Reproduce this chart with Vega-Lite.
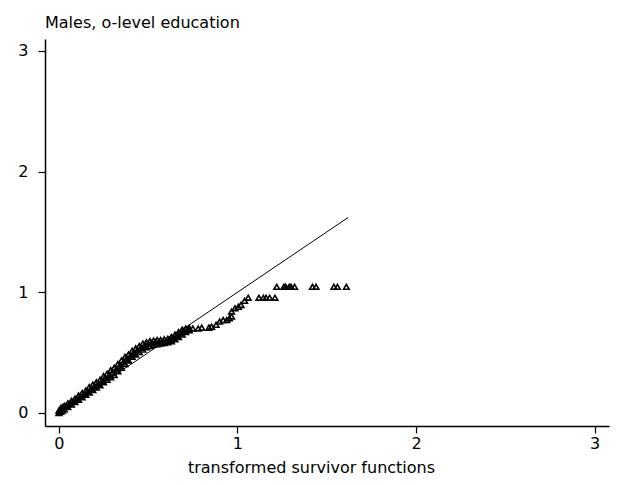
{
  "$schema": "https://vega.github.io/schema/vega-lite/v6.json",
  "width": 564,
  "height": 387,
  "autosize": {"type": "none"},
  "padding": {"left": 45, "top": 39, "right": 10, "bottom": 59},
  "background": "white",
  "title": {"text": "Males, o-level education", "anchor": "start", "frame": "group", "font": "DejaVu Sans", "fontSize": 16, "fontWeight": "normal", "color": "#000000", "baseline": "alphabetic", "offset": -5},
  "config": {"view": {"stroke": null}, "font": "DejaVu Sans"},
  "datasets": {
    "pts": [
      {"x": 0.00, "y": 0.00}, {"x": 0.00, "y": 0.02},
      {"x": 0.01, "y": 0.01}, {"x": 0.01, "y": 0.04},
      {"x": 0.02, "y": 0.02}, {"x": 0.02, "y": 0.05},
      {"x": 0.03, "y": 0.03}, {"x": 0.03, "y": 0.06},
      {"x": 0.04, "y": 0.055},
      {"x": 0.05, "y": 0.05}, {"x": 0.05, "y": 0.08},
      {"x": 0.06, "y": 0.075},
      {"x": 0.07, "y": 0.07}, {"x": 0.07, "y": 0.10},
      {"x": 0.08, "y": 0.095},
      {"x": 0.09, "y": 0.09}, {"x": 0.09, "y": 0.12},
      {"x": 0.10, "y": 0.115},
      {"x": 0.11, "y": 0.11}, {"x": 0.11, "y": 0.145},
      {"x": 0.12, "y": 0.135},
      {"x": 0.13, "y": 0.13}, {"x": 0.13, "y": 0.165},
      {"x": 0.14, "y": 0.155},
      {"x": 0.15, "y": 0.15}, {"x": 0.15, "y": 0.185},
      {"x": 0.16, "y": 0.18},
      {"x": 0.17, "y": 0.17}, {"x": 0.17, "y": 0.215},
      {"x": 0.18, "y": 0.20},
      {"x": 0.19, "y": 0.19}, {"x": 0.19, "y": 0.235},
      {"x": 0.20, "y": 0.22},
      {"x": 0.21, "y": 0.21}, {"x": 0.21, "y": 0.255},
      {"x": 0.22, "y": 0.24},
      {"x": 0.23, "y": 0.23}, {"x": 0.23, "y": 0.275},
      {"x": 0.24, "y": 0.265},
      {"x": 0.25, "y": 0.255}, {"x": 0.25, "y": 0.305},
      {"x": 0.26, "y": 0.29},
      {"x": 0.27, "y": 0.275}, {"x": 0.27, "y": 0.325},
      {"x": 0.28, "y": 0.31},
      {"x": 0.29, "y": 0.295}, {"x": 0.29, "y": 0.355},
      {"x": 0.30, "y": 0.335},
      {"x": 0.31, "y": 0.315}, {"x": 0.31, "y": 0.375},
      {"x": 0.32, "y": 0.36},
      {"x": 0.33, "y": 0.345}, {"x": 0.33, "y": 0.405},
      {"x": 0.34, "y": 0.39},
      {"x": 0.35, "y": 0.375}, {"x": 0.35, "y": 0.435},
      {"x": 0.36, "y": 0.42},
      {"x": 0.37, "y": 0.405}, {"x": 0.37, "y": 0.465},
      {"x": 0.38, "y": 0.45},
      {"x": 0.39, "y": 0.435}, {"x": 0.39, "y": 0.485},
      {"x": 0.40, "y": 0.475},
      {"x": 0.41, "y": 0.465}, {"x": 0.41, "y": 0.515},
      {"x": 0.42, "y": 0.50},
      {"x": 0.43, "y": 0.485}, {"x": 0.43, "y": 0.535},
      {"x": 0.44, "y": 0.52},
      {"x": 0.45, "y": 0.505}, {"x": 0.45, "y": 0.555},
      {"x": 0.46, "y": 0.54},
      {"x": 0.47, "y": 0.525}, {"x": 0.47, "y": 0.575},
      {"x": 0.48, "y": 0.56},
      {"x": 0.49, "y": 0.545}, {"x": 0.49, "y": 0.585},
      {"x": 0.50, "y": 0.575},
      {"x": 0.51, "y": 0.555}, {"x": 0.51, "y": 0.595},
      {"x": 0.52, "y": 0.58},
      {"x": 0.53, "y": 0.565}, {"x": 0.53, "y": 0.60},
      {"x": 0.54, "y": 0.585},
      {"x": 0.55, "y": 0.57}, {"x": 0.55, "y": 0.605},
      {"x": 0.56, "y": 0.59},
      {"x": 0.57, "y": 0.575}, {"x": 0.57, "y": 0.605},
      {"x": 0.58, "y": 0.59},
      {"x": 0.59, "y": 0.58}, {"x": 0.59, "y": 0.61},
      {"x": 0.60, "y": 0.595},
      {"x": 0.61, "y": 0.585}, {"x": 0.61, "y": 0.615},
      {"x": 0.62, "y": 0.605},
      {"x": 0.63, "y": 0.595}, {"x": 0.63, "y": 0.63},
      {"x": 0.64, "y": 0.62},
      {"x": 0.65, "y": 0.61}, {"x": 0.65, "y": 0.65},
      {"x": 0.66, "y": 0.64},
      {"x": 0.67, "y": 0.63}, {"x": 0.67, "y": 0.67},
      {"x": 0.68, "y": 0.66},
      {"x": 0.69, "y": 0.65}, {"x": 0.69, "y": 0.69},
      {"x": 0.70, "y": 0.68},
      {"x": 0.71, "y": 0.67}, {"x": 0.71, "y": 0.70},
      {"x": 0.72, "y": 0.69},
      {"x": 0.73, "y": 0.685}, {"x": 0.73, "y": 0.705},
      {"x": 0.75, "y": 0.70}, {"x": 0.78, "y": 0.70},
      {"x": 0.80, "y": 0.707}, {"x": 0.84, "y": 0.707},
      {"x": 0.855, "y": 0.715}, {"x": 0.88, "y": 0.73},
      {"x": 0.90, "y": 0.757}, {"x": 0.92, "y": 0.77},
      {"x": 0.94, "y": 0.77}, {"x": 0.955, "y": 0.785},
      {"x": 0.967, "y": 0.80}, {"x": 0.967, "y": 0.84},
      {"x": 0.986, "y": 0.867}, {"x": 1.005, "y": 0.88},
      {"x": 1.02, "y": 0.895}, {"x": 1.04, "y": 0.93},
      {"x": 1.06, "y": 0.955}, {"x": 1.12, "y": 0.955},
      {"x": 1.145, "y": 0.955}, {"x": 1.16, "y": 0.955},
      {"x": 1.18, "y": 0.955}, {"x": 1.21, "y": 0.955},
      {"x": 1.22, "y": 1.045}, {"x": 1.26, "y": 1.045},
      {"x": 1.27, "y": 1.045}, {"x": 1.29, "y": 1.045},
      {"x": 1.30, "y": 1.045}, {"x": 1.32, "y": 1.045},
      {"x": 1.42, "y": 1.045}, {"x": 1.44, "y": 1.045},
      {"x": 1.54, "y": 1.045}, {"x": 1.56, "y": 1.045},
      {"x": 1.61, "y": 1.045}
    ],
    "ref": [
      {"x": 0, "y": 0},
      {"x": 1.62, "y": 1.62}
    ]
  },
  "layer": [
    {
      "data": {"name": "ref"},
      "mark": {"type": "line", "color": "#000000", "strokeWidth": 1, "clip": true},
      "encoding": {
        "x": {"field": "x", "type": "quantitative"},
        "y": {"field": "y", "type": "quantitative"}
      }
    },
    {
      "data": {"name": "pts"},
      "mark": {"type": "point", "shape": "triangle-up", "filled": false, "stroke": "#000000", "strokeWidth": 1.6, "size": 32, "opacity": 1},
      "encoding": {
        "x": {"field": "x", "type": "quantitative",
          "scale": {"domain": [-0.078, 3.081], "nice": false, "zero": false},
          "axis": {"values": [0, 1, 2, 3], "format": "d", "grid": false, "domainColor": "#000000", "domainWidth": 1.5, "tickColor": "#000000", "tickWidth": 1.2, "tickSize": 7, "labelFont": "DejaVu Sans", "labelFontSize": 16, "labelColor": "#000000", "labelPadding": 2, "title": "transformed survivor functions", "titleFont": "DejaVu Sans", "titleFontSize": 16, "titleFontWeight": "normal", "titleColor": "#000000", "titleX": 266, "titleY": 46, "titleBaseline": "alphabetic", "titleAnchor": "middle", "titleAlign": "center"}},
        "y": {"field": "y", "type": "quantitative",
          "scale": {"domain": [-0.108, 3.099], "nice": false, "zero": false},
          "axis": {"values": [0, 1, 2, 3], "format": "d", "grid": false, "domainColor": "#000000", "domainWidth": 1.5, "tickColor": "#000000", "tickWidth": 1.2, "tickSize": 7, "labelFont": "DejaVu Sans", "labelFontSize": 16, "labelColor": "#000000", "labelPadding": 10, "title": null}}
      }
    }
  ]
}
